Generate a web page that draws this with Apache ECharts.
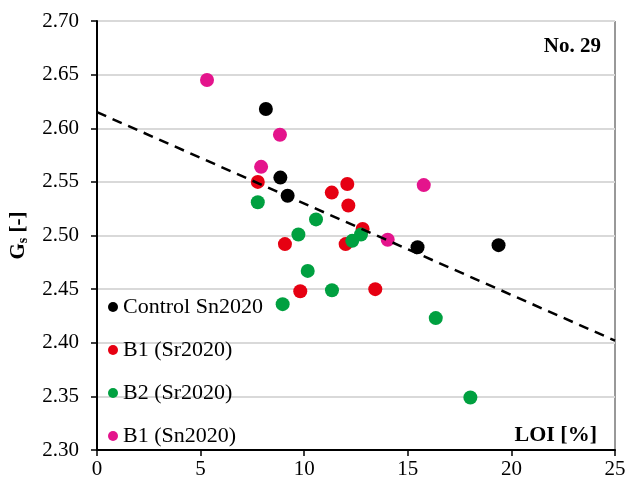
<!DOCTYPE html>
<html>
<head>
<meta charset="utf-8">
<style>
  html, body { margin: 0; padding: 0; background: #fff; }
  #chart { width: 628px; height: 485px; }
</style>
<script src="https://cdn.jsdelivr.net/npm/echarts@6/dist/echarts.min.js"></script>
</head>
<body>
<div id="chart"></div>
<script>
// LOI [%] vs Gs [-]
const controlSn2020 = [[8.15, 2.618], [8.85, 2.554], [9.2, 2.537], [15.47, 2.489], [19.38, 2.491]];
const b1Sr2020 = [[7.76, 2.550], [11.33, 2.540], [12.08, 2.548], [12.13, 2.528], [9.07, 2.492],
  [12.82, 2.506], [12.0, 2.492], [9.81, 2.448], [13.43, 2.450]];
const b2Sr2020 = [[7.76, 2.531], [10.57, 2.515], [9.72, 2.501], [12.74, 2.501], [12.32, 2.495],
  [10.17, 2.467], [11.34, 2.449], [8.96, 2.436], [16.35, 2.423], [18.02, 2.349]];
const b1Sn2020 = [[5.31, 2.645], [8.83, 2.594], [7.92, 2.564], [14.03, 2.496], [15.77, 2.547]];
const trendLine = [[0, 2.615], [25, 2.402]];

const seriesNames = ["Control Sn2020", "B1 (Sr2020)", "B2 (Sr2020)", "B1 (Sn2020)"];
const seriesColors = ["#000000", "#e60012", "#00a040", "#e4148c"];

const font = "'Liberation Serif', 'Times New Roman', serif";
const chart = echarts.init(document.getElementById("chart"));

const scatter = (name, data, color) => ({
  name: name,
  type: "scatter",
  data: data,
  symbolSize: 14,
  itemStyle: { color: color, opacity: 1 },
  z: 3,
});

chart.setOption({
  animation: false,
  textStyle: { fontFamily: font },
  grid: {
    left: 97, right: 13, top: 21, bottom: 35,
    containLabel: false, outerBoundsMode: "none",
    show: true, borderColor: "#333", borderWidth: 1,
  },
  title: {
    text: "No. 29",
    right: 22,
    top: 31,
    textStyle: { fontFamily: font, fontSize: 21, fontWeight: "bold", color: "#000" },
  },
  legend: {
    data: seriesNames,
    orient: "vertical",
    left: 103,
    top: 291,
    icon: "circle",
    itemWidth: 10,
    itemHeight: 10,
    itemGap: 21,
    textStyle: { fontFamily: font, fontSize: 22, color: "#000", padding: [0, 0, 0, 0] },
  },
  graphic: [
    {
      type: "text",
      right: 31,
      top: 424,
      style: { text: "LOI [%]", font: "bold 22px " + font, fill: "#000" },
    },
  ],
  xAxis: {
    type: "value",
    min: 0,
    max: 25,
    interval: 5,
    axisLine: { show: true, onZero: false, lineStyle: { color: "#000", width: 2 } },
    axisTick: { show: true, length: 6, lineStyle: { color: "#000", width: 1.5 } },
    axisLabel: { color: "#000", fontSize: 21, fontFamily: font, margin: 9 },
    splitLine: { show: false },
  },
  yAxis: {
    type: "value",
    min: 2.3,
    max: 2.7,
    interval: 0.05,
    name: "{g|G}{s|s}{g| [-]}",
    nameLocation: "middle",
    nameRotate: 90,
    nameGap: 67,
    nameTextStyle: {
      rich: {
        g: { fontFamily: font, fontSize: 21, fontWeight: "bold", color: "#000" },
        s: { fontFamily: font, fontSize: 14, fontWeight: "bold", color: "#000", padding: [8, 0, 0, 0] },
      },
    },
    axisLine: { show: true, onZero: false, lineStyle: { color: "#000", width: 2 } },
    axisTick: { show: true, length: 6, inside: false, lineStyle: { color: "#000", width: 1.5 } },
    axisLabel: {
      color: "#000",
      fontSize: 21,
      fontFamily: font,
      margin: 18,
      formatter: (v) => v.toFixed(2),
    },
    splitLine: { show: true, lineStyle: { color: "#d9d9d9", width: 2 } },
  },
  series: [
    {
      name: "trend",
      type: "line",
      data: trendLine,
      symbol: "none",
      lineStyle: { color: "#000", width: 2.5, type: [10, 7] },
      z: 4,
      silent: true,
    },
    scatter(seriesNames[0], controlSn2020, seriesColors[0]),
    scatter(seriesNames[1], b1Sr2020, seriesColors[1]),
    scatter(seriesNames[2], b2Sr2020, seriesColors[2]),
    scatter(seriesNames[3], b1Sn2020, seriesColors[3]),
  ],
});
</script>
</body>
</html>
